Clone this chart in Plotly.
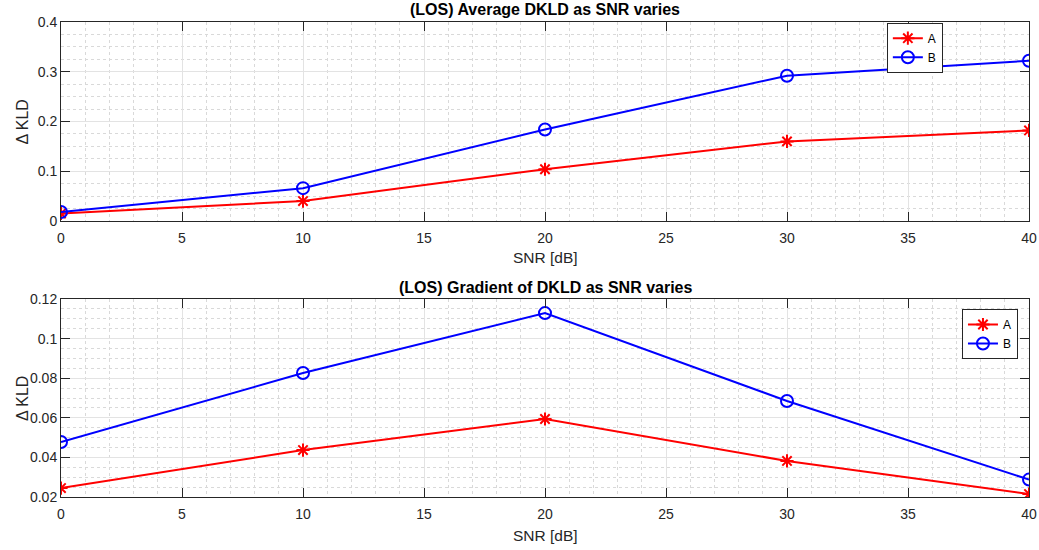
import plotly.graph_objects as go

snr = [0, 10, 20, 30, 40]
avg_A = [0.015, 0.040, 0.104, 0.160, 0.182]
avg_B = [0.018, 0.066, 0.184, 0.292, 0.322]
grad_A = [0.0245, 0.0437, 0.0594, 0.0382, 0.0215]
grad_B = [0.0478, 0.0826, 0.1129, 0.0685, 0.0288]

x_ticks = [0, 5, 10, 15, 20, 25, 30, 35, 40]
y1_ticks = [0, 0.1, 0.2, 0.3, 0.4]
y1_labels = ["0", "0.1", "0.2", "0.3", "0.4"]
y2_ticks = [0.02, 0.04, 0.06, 0.08, 0.10, 0.12]
y2_labels = ["0.02", "0.04", "0.06", "0.08", "0.1", "0.12"]

title_top = "(LOS) Average DKLD as SNR varies"
title_bot = "(LOS) Gradient of DKLD as SNR varies"
x_label = "SNR [dB]"
y_label = "\u0394 KLD"

RED = "#ff0000"
BLUE = "#0000ff"
AX = "#262626"
FONT = "Liberation Sans, Arial, sans-serif"

fig = go.Figure()

def add_pair(ya, yb, xa, yax, leg):
    fig.add_trace(go.Scatter(
        x=snr, y=ya, name="A", mode="lines+markers", xaxis=xa, yaxis=yax, legend=leg,
        line=dict(color=RED, width=2),
        marker=dict(symbol="asterisk-open", size=11, color=RED, line=dict(width=2, color=RED)),
    ))
    fig.add_trace(go.Scatter(
        x=snr, y=yb, name="B", mode="lines+markers", xaxis=xa, yaxis=yax, legend=leg,
        line=dict(color=BLUE, width=2),
        marker=dict(symbol="circle-open", size=12, color=BLUE, line=dict(width=2, color=BLUE)),
    ))

add_pair(avg_A, avg_B, "x", "y", "legend")
add_pair(grad_A, grad_B, "x2", "y2", "legend2")

top_dom = [0.5811, 1.0]
bot_dom = [0.0, 0.4168]

def xaxis(anchor):
    return dict(
        domain=[0, 1], anchor=anchor, range=[0, 40], tickvals=x_ticks,
        showline=True, mirror="ticks", linecolor=AX, linewidth=1,
        ticks="inside", ticklen=9, tickcolor=AX, tickwidth=1,
        tickfont=dict(family=FONT, size=14, color=AX), ticklabelstandoff=4,
        showgrid=True, gridcolor="#e3e3e3", gridwidth=1,
        minor=dict(dtick=1, showgrid=True, gridcolor="#d9d9d9", griddash="dot", ticks=""),
        zeroline=False, automargin=False,
    )

def yaxis(anchor, dom, rng, tv, tt, minor):
    return dict(
        domain=dom, anchor=anchor, range=rng, tickvals=tv, ticktext=tt,
        showline=True, mirror="ticks", linecolor=AX, linewidth=1,
        ticks="inside", ticklen=9, tickcolor=AX, tickwidth=1,
        tickfont=dict(family=FONT, size=14, color=AX),
        showgrid=True, gridcolor="#e3e3e3", gridwidth=1,
        minor=dict(dtick=minor, tick0=rng[0], showgrid=True, gridcolor="#d9d9d9", griddash="dot", ticks=""),
        zeroline=False, automargin=False,
    )

def ann(text, x, y, size, angle=0):
    return dict(text=text, x=x, y=y, xref="paper", yref="paper",
                xanchor="center", yanchor="middle", showarrow=False, textangle=angle,
                font=dict(family=FONT, size=size, color="black" if text.startswith("<b>") else AX))

fig.update_layout(
    width=1039, height=550,
    margin=dict(l=61, r=10, t=22, b=53, autoexpand=False),
    paper_bgcolor="white", plot_bgcolor="white",
    font=dict(family=FONT, color=AX),
    xaxis=xaxis("y"),
    yaxis=yaxis("x", top_dom, [0, 0.4], y1_ticks, y1_labels, 0.025),
    xaxis2=xaxis("y2"),
    yaxis2=yaxis("x2", bot_dom, [0.02, 0.12], y2_ticks, y2_labels, 0.005),
    legend=dict(x=0.911, y=0.9985, xanchor="right", yanchor="top",
                bgcolor="white", bordercolor=AX, borderwidth=1,
                font=dict(family=FONT, size=12, color="black"),
                itemwidth=30, tracegroupgap=0),
    legend2=dict(x=0.9886, y=0.3958, xanchor="right", yanchor="top",
                 bgcolor="white", bordercolor=AX, borderwidth=1,
                 font=dict(family=FONT, size=12, color="black"),
                 itemwidth=30, tracegroupgap=0),
    showlegend=True,
    annotations=[
        ann("<b>" + title_top + "</b>", 0.5, 1.0253, 16),
        ann("<b>" + title_bot + "</b>", 0.5, 0.4421, 16),
        ann(x_label, 0.5, 0.5032, 15.5),
        ann(x_label, 0.5, -0.08, 15.5),
        ann(y_label, -0.0403, 0.7906, 16, -90),
        ann(y_label, -0.0403, 0.2084, 16, -90),
    ],
)

fig.write_html("out.html", config={"displayModeBar": False},
               post_script="document.body.style.margin='0';document.body.style.overflow='hidden';")
